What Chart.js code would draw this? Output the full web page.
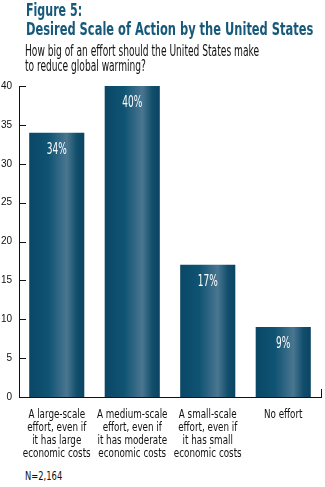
<!DOCTYPE html>
<html>
<head>
<meta charset="utf-8">
<script src="https://cdn.jsdelivr.net/npm/chart.js@4"></script>
<style>
    html, body { margin: 0; padding: 0; background: #fff; }
    body { width: 325px; height: 487px; position: relative; overflow: hidden; }
    .line { position: absolute; white-space: nowrap; transform-origin: 0 0; font-family: "DejaVu Sans", sans-serif; }
    .title { font-weight: bold; font-size: 17px; color: #17597a; }
    .sub { font-size: 15px; color: #111; }
    #wrap { position: absolute; left: 0; top: 0; width: 325px; height: 465px; }
</style>
</head>
<body>
<div id="wrap"><canvas id="chart"></canvas></div>
<div class="line title" data-w="56" style="left:26px; top:0px">Figure 5:</div>
<div class="line title" data-w="287" style="left:26px; top:19px">Desired Scale of Action by the United States</div>
<div class="line sub" data-w="234" style="left:25px; top:42px">How big of an effort should the United States make</div>
<div class="line sub" data-w="121" style="left:25px; top:57px">to reduce global warming?</div>
<div class="line sub" data-w="37" style="left:25px; top:469px; font-size:12px">N=2,164</div>
<script>
const categories = [
    ['A large-scale', 'effort, even if', 'it has large', 'economic costs'],
    ['A medium-scale', 'effort, even if', 'it has moderate', 'economic costs'],
    ['A small-scale', 'effort, even if', 'it has small', 'economic costs'],
    ['No effort']
];
const percentValues = [34, 40, 17, 9];
const yTicks = [0, 5, 10, 15, 20, 25, 30, 35, 40];

const barPct = 0.73;

// squeeze the heading lines to the widths of the original
document.querySelectorAll('.line').forEach(function(el) {
    const w = parseFloat(el.dataset.w);
    el.style.transform = 'scaleX(' + (w / el.scrollWidth) + ')';
});

// horizontal gradient on each bar, light stripe right of centre
function barGradient(c) {
    const chart = c.chart;
    const area = chart.chartArea;
    if (!area || c.dataIndex === undefined) return '#0f5373';
    const bw = area.width / categories.length * barPct;
    const cx = chart.scales.x.getPixelForValue(c.dataIndex);
    const left = cx - bw / 2;
    const g = chart.ctx.createLinearGradient(left, 0, left + bw, 0);
    g.addColorStop(0, '#0a4766');
    g.addColorStop(0.35, '#0f5373');
    g.addColorStop(0.68, '#4a7690');
    g.addColorStop(0.86, '#124f6d');
    g.addColorStop(1, '#0a4462');
    return g;
}

// draw text squeezed horizontally (the original uses a condensed face)
function narrowText(ctx, text, x, y, sx) {
    ctx.save();
    ctx.translate(x, y);
    ctx.scale(sx, 1);
    ctx.fillText(text, 0, 0);
    ctx.restore();
}

// inward axis ticks, category labels and value labels
const axisDecor = {
    id: 'axisDecor',
    afterDatasetsDraw(chart) {
        const ctx = chart.ctx;
        const x = chart.scales.x;
        const y = chart.scales.y;
        const area = chart.chartArea;
        ctx.save();
        ctx.strokeStyle = '#111';
        ctx.lineWidth = 1;
        ctx.beginPath();
        yTicks.forEach(function(v) {
            const py = Math.round(y.getPixelForValue(v)) + 0.5;
            ctx.moveTo(area.left, py);
            ctx.lineTo(area.left + 7, py);
        });
        ctx.moveTo(area.right + 0.5, area.bottom);
        ctx.lineTo(area.right + 0.5, area.bottom - 8);
        ctx.stroke();

        ctx.textAlign = 'center';
        ctx.textBaseline = 'alphabetic';

        ctx.fillStyle = '#111';
        ctx.font = '12px "DejaVu Sans"';
        chart.data.labels.forEach(function(lines, i) {
            const px = x.getPixelForValue(i);
            lines.forEach(function(t, j) {
                narrowText(ctx, t, px, area.bottom + 21 + j * 13, 0.73);
            });
        });

        ctx.fillStyle = '#fff';
        ctx.font = '15px "DejaVu Sans"';
        chart.getDatasetMeta(0).data.forEach(function(bar, i) {
            narrowText(ctx, percentValues[i] + '%', bar.x, bar.y + 21, 0.6);
        });
        ctx.restore();
    }
};

new Chart(document.getElementById('chart'), {
    type: 'bar',
    data: {
        labels: categories,
        datasets: [{
            data: percentValues,
            backgroundColor: barGradient,
            borderWidth: 0,
            barPercentage: barPct,
            categoryPercentage: 1
        }]
    },
    options: {
        responsive: true,
        maintainAspectRatio: false,
        animation: false,
        layout: { padding: { top: 86, right: 4, left: 0, bottom: 0 } },
        plugins: {
            legend: { display: false },
            tooltip: { enabled: false }
        },
        scales: {
            x: {
                grid: { display: false, drawTicks: false },
                border: { color: '#111', width: 1 },
                ticks: { display: false },
                afterFit(scale) { scale.height = 68; }
            },
            y: {
                min: 0,
                max: 40,
                afterBuildTicks(scale) {
                    scale.ticks = yTicks.map(function(v) { return { value: v }; });
                },
                grid: { display: false, drawTicks: false },
                border: { color: '#111', width: 1 },
                ticks: {
                    color: '#111',
                    padding: 7,
                    font: { family: '"Liberation Sans"', size: 10 }
                },
                afterFit(scale) { scale.width = 19; }
            }
        }
    },
    plugins: [axisDecor]
});
</script>
</body>
</html>
